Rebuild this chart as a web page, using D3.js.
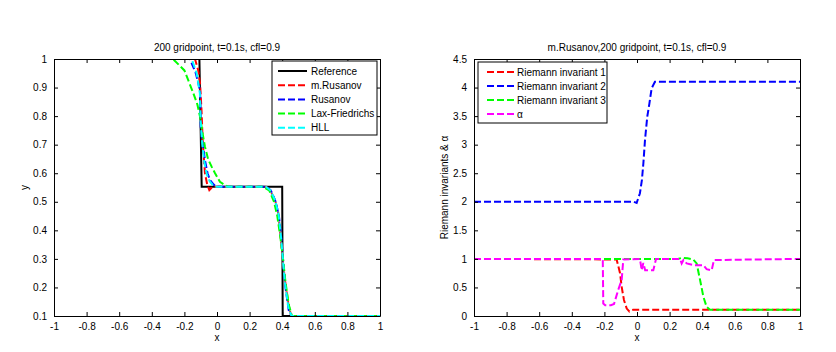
<!DOCTYPE html>
<html><head><meta charset="utf-8">
<script src="https://cdn.jsdelivr.net/npm/d3@7"></script>
<style>
body{margin:0;background:#fff;}
text{font-family:"Liberation Sans",Arial,Helvetica,sans-serif;}
</style></head>
<body><svg id="c" width="836" height="352"></svg>
<script>
// ---------- DATA ----------
const xTicks = [-1,-0.8,-0.6,-0.4,-0.2,0,0.2,0.4,0.6,0.8,1];
const leftYTicks = [0.1,0.2,0.3,0.4,0.5,0.6,0.7,0.8,0.9,1];
const rightYTicks = [0,0.5,1,1.5,2,2.5,3,3.5,4,4.5];

const refX = [-1,-0.108,-0.094,0.400,0.403,1];
const refY = [1,1,0.553,0.553,0.1,0.1];

const mRusX = [-1,-0.135,-0.115,-0.104,-0.095,-0.088,-0.074,-0.06,-0.047,-0.035,-0.025,0.3,0.325,0.356,0.376,0.39,0.403,0.417,0.437,0.455,1];
const mRusY = [1,1,0.96,0.915,0.82,0.716,0.6,0.56,0.541,0.548,0.553,0.553,0.541,0.506,0.46,0.378,0.296,0.226,0.144,0.1,0.1];

const rusX = [-1,-0.166,-0.13,-0.104,-0.1,-0.087,-0.074,-0.058,-0.043,-0.02,-0.002,0.3,0.33,0.36,0.38,0.395,0.408,0.42,0.44,0.458,1];
const rusY = [1,1,0.95,0.89,0.763,0.7,0.646,0.6,0.576,0.56,0.553,0.553,0.54,0.5,0.45,0.37,0.28,0.2,0.12,0.1,0.1];

const lfX = [-1,-0.27,-0.2,-0.145,-0.12,-0.104,-0.09,-0.074,-0.055,-0.033,-0.012,0.018,0.05,0.07,0.28,0.32,0.35,0.37,0.39,0.405,0.42,0.44,0.46,1];
const lfY = [1,1,0.96,0.88,0.84,0.798,0.745,0.693,0.65,0.623,0.6,0.57,0.558,0.553,0.553,0.54,0.5,0.45,0.37,0.3,0.22,0.14,0.1,0.1];

const hllX = [-1,-0.155,-0.125,-0.105,-0.1,-0.09,-0.078,-0.062,-0.045,-0.025,-0.005,0.3,0.328,0.358,0.378,0.393,0.405,0.418,0.438,0.457,1];
const hllY = [1,1,0.95,0.88,0.78,0.7,0.64,0.595,0.572,0.558,0.553,0.553,0.54,0.503,0.455,0.375,0.29,0.21,0.13,0.1,0.1];

const ri1X = [-1,-0.125,-0.104,-0.094,-0.08,-0.063,-0.047,-0.035,-0.023,1];
const ri1Y = [1,0.99,0.75,0.51,0.28,0.13,0.08,0.1,0.11,0.11];

const ri2X = [-1,-0.02,-0.002,0.018,0.03,0.039,0.049,0.063,0.076,0.09,0.11,1];
const ri2Y = [2,2,1.98,2.15,2.38,2.67,3.08,3.49,3.72,3.99,4.1,4.1];

const ri3X = [-1,0.25,0.28,0.31,0.345,0.366,0.387,0.407,0.427,0.448,1];
const ri3Y = [1,1,1.02,1.01,0.99,0.92,0.63,0.34,0.16,0.11,0.11];

const alphaX = [-1,-0.21,-0.207,-0.195,-0.16,-0.141,-0.115,-0.094,-0.084,0.018,0.029,0.039,0.05,0.1,0.117,0.264,0.274,0.285,0.305,0.346,0.407,0.427,0.458,0.472,1];
const alphaY = [1,1,0.22,0.19,0.19,0.21,0.46,0.63,0.99,1,0.8,0.93,0.8,0.8,1,1,0.92,0.98,0.92,0.89,0.89,0.82,0.8,0.98,1];

const leftSeries = [
  {name:"Reference", xs:refX, ys:refY, color:"#000000", dash:null},
  {name:"m.Rusanov", xs:mRusX, ys:mRusY, color:"#ff0000", dash:"7,3"},
  {name:"Rusanov", xs:rusX, ys:rusY, color:"#0000ff", dash:"7,3"},
  {name:"Lax-Friedrichs", xs:lfX, ys:lfY, color:"#00ff00", dash:"7,3"},
  {name:"HLL", xs:hllX, ys:hllY, color:"#00ffff", dash:"7,3"}
];
const rightSeries = [
  {name:"Riemann invariant 1", xs:ri1X, ys:ri1Y, color:"#ff0000", dash:"7,3"},
  {name:"Riemann invariant 2", xs:ri2X, ys:ri2Y, color:"#0000ff", dash:"7,3"},
  {name:"Riemann invariant 3", xs:ri3X, ys:ri3Y, color:"#00ff00", dash:"7,3"},
  {name:"\u03b1", xs:alphaX, ys:alphaY, color:"#ff00ff", dash:"7,3"}
];

// ---------- DRAW ----------
const svg = d3.select("#c");
svg.append("rect").attr("width",836).attr("height",352).attr("fill","#fff");

function panel(opt){
  const {x0,x1,y0,y1,yDomain,yTicks,title,ylabel,series,legend,id} = opt;
  const xs = d3.scaleLinear().domain([-1,1]).range([x0,x1]);
  const ys = d3.scaleLinear().domain(yDomain).range([y1,y0]);
  const g = svg.append("g");
  g.append("clipPath").attr("id",id).append("rect")
    .attr("x",x0).attr("y",y0).attr("width",x1-x0).attr("height",y1-y0);
  g.append("rect").attr("x",x0).attr("y",y0).attr("width",x1-x0).attr("height",y1-y0).attr("fill","#fff");

  const line = d3.line().x(d=>xs(d[0])).y(d=>ys(d[1]));
  const lg = g.append("g").attr("clip-path",`url(#${id})`);
  series.forEach(s=>{
    const pts = s.xs.map((v,i)=>[v,s.ys[i]]);
    lg.append("path").attr("d",line(pts)).attr("fill","none")
      .attr("stroke",s.color).attr("stroke-width",2)
      .attr("stroke-dasharray",s.dash);
  });

  const fmt = d=>String(d);
  const axStyle = a=>{a.select(".domain").attr("stroke","#000");a.selectAll(".tick line").attr("stroke","#000");
    a.selectAll("text").attr("fill","#000").style("font-size","10px").style("font-family","'Liberation Sans',Arial,sans-serif");};
  g.append("g").attr("transform",`translate(0,${y1})`)
    .call(d3.axisBottom(xs).tickValues(xTicks).tickFormat(fmt).tickSizeInner(-4).tickSizeOuter(0).tickPadding(7))
    .call(axStyle);
  g.append("g").attr("transform",`translate(0,${y0})`)
    .call(d3.axisTop(xs).tickValues(xTicks).tickFormat("").tickSizeInner(-4).tickSizeOuter(0))
    .call(axStyle);
  g.append("g").attr("transform",`translate(${x0},0)`)
    .call(d3.axisLeft(ys).tickValues(yTicks).tickFormat(fmt).tickSizeInner(-4).tickSizeOuter(0).tickPadding(7))
    .call(axStyle);
  g.append("g").attr("transform",`translate(${x1},0)`)
    .call(d3.axisRight(ys).tickValues(yTicks).tickFormat("").tickSizeInner(-4).tickSizeOuter(0))
    .call(axStyle);

  g.append("text").attr("x",(x0+x1)/2).attr("y",y0-8).attr("text-anchor","middle")
    .style("font-size","10px").text(title);
  g.append("text").attr("x",(x0+x1)/2).attr("y",y1+25).attr("text-anchor","middle")
    .style("font-size","10px").text("x");
  g.append("text").attr("transform",`translate(${opt.ylx},${(y0+y1)/2}) rotate(-90)`)
    .attr("text-anchor","middle").style("font-size","10px").text(ylabel);

  // legend
  const L = legend;
  g.append("rect").attr("x",L.x).attr("y",L.y).attr("width",L.w).attr("height",L.h)
    .attr("fill","#fff").attr("stroke","#000").attr("stroke-width",1);
  series.forEach((s,i)=>{
    const yy = L.y + L.top + i*L.step;
    g.append("line").attr("x1",L.x+L.lx0).attr("x2",L.x+L.lx1).attr("y1",yy).attr("y2",yy)
      .attr("stroke",s.color).attr("stroke-width",2).attr("stroke-dasharray",s.dash);
    g.append("text").attr("x",L.x+L.tx).attr("y",yy+3.5).style("font-size","10px").text(s.name);
  });
}

panel({id:"clipL",x0:54,x1:380,y0:59,y1:316,yDomain:[0.1,1],yTicks:leftYTicks,
  title:"200 gridpoint, t=0.1s, cfl=0.9",ylabel:"y",ylx:28,series:leftSeries,
  legend:{x:272,y:61,w:105,h:74,top:10,step:14.2,lx0:6,lx1:35,tx:39}});
panel({id:"clipR",x0:474,x1:800,y0:59,y1:316,yDomain:[0,4.5],yTicks:rightYTicks,
  title:"m.Rusanov,200 gridpoint, t=0.1s, cfl=0.9",ylabel:"Riemann invariants & \u03b1",ylx:448,series:rightSeries,
  legend:{x:478,y:62,w:129,h:61,top:10,step:14,lx0:9,lx1:37,tx:39}});
</script></body></html>
